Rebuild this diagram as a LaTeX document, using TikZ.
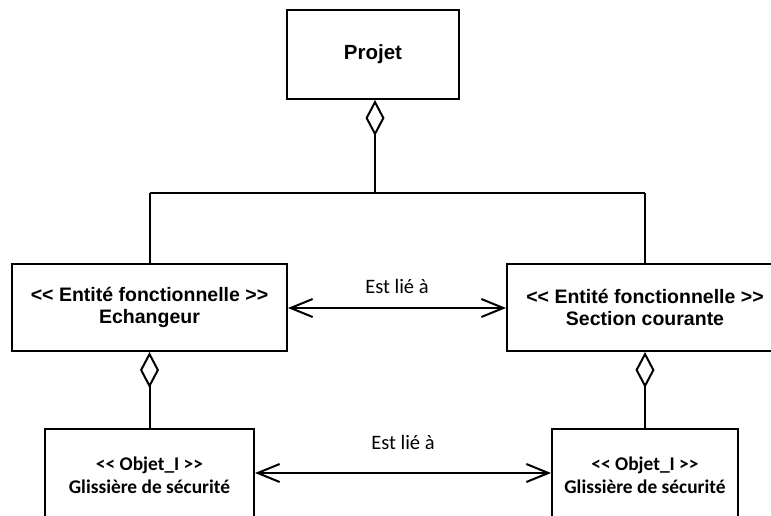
\documentclass[tikz,border=0pt]{standalone}
\usepackage{fontspec}
\setmainfont{Liberation Sans}
\newfontfamily\calfont{Carlito}
\usetikzlibrary{arrows.meta}
\begin{document}
\begin{tikzpicture}[x=1pt,y=-1pt,
  box/.style={draw,line width=2pt,inner sep=0pt,align=center,fill=white},
  ent/.style={box,font=\fontsize{19.5}{22}\selectfont\bfseries},
  obj/.style={box,font=\calfont\fontsize{19.4}{23}\selectfont\bfseries},
  lnk/.style={line width=2pt},
  agg/.style={lnk,{Diamond[open,length=36pt,width=19pt,line width=2pt]}-},
  nav/.style={lnk,{Straight Barb[length=22pt,width=18pt,line width=2pt]}-{Straight Barb[length=22pt,width=18pt,line width=2pt]}},
  lbl/.style={font=\calfont\fontsize{20.5}{22}\selectfont}]
\useasboundingbox (0,0) rectangle (771,515);
\clip (0,0) rectangle (771,515);
\node[box,minimum width=172pt,minimum height=89pt,font=\fontsize{20.5}{22}\selectfont\bfseries] (projet) at (373,54.5) {Projet};
\node[ent,minimum width=275pt,minimum height=87pt] (ech) at (149.5,307.5) {<{}< Entité fonctionnelle >{}>\\Echangeur};
\node[ent,minimum width=276pt,minimum height=87pt] (sec) at (645,307.5) {<{}< Entité fonctionnelle >{}>\\Section courante};
\node[obj,minimum width=209pt,minimum height=92pt] (g1) at (149.5,475) {<{}< Objet\_I >{}>\\Glissière de sécurité};
\node[obj,minimum width=186pt,minimum height=92pt] (g2) at (645,475) {<{}< Objet\_I >{}>\\Glissière de sécurité};
\coordinate (j) at (375,193);
\coordinate (jl) at (149.5,193);
\coordinate (jr) at (645,193);
\draw[agg] (projet.south -| j) -- (j);
\draw[lnk] (jl) -- (jr);
\draw[lnk] (jl) -- (ech.north);
\draw[lnk] (jr) -- (sec.north);
\draw[agg] (ech.south) -- (g1.north);
\draw[agg] (sec.south) -- (g2.north);
\draw[nav] (ech.east) ++(0,0.5) coordinate (a1) -- (a1 -| sec.west) node[midway,lbl,above=10pt] {Est lié à};
\draw[nav] (g1.east) ++(0,-2) coordinate (a2) -- (a2 -| g2.west) node[midway,lbl,above=19pt] {Est lié à};
\end{tikzpicture}
\end{document}
